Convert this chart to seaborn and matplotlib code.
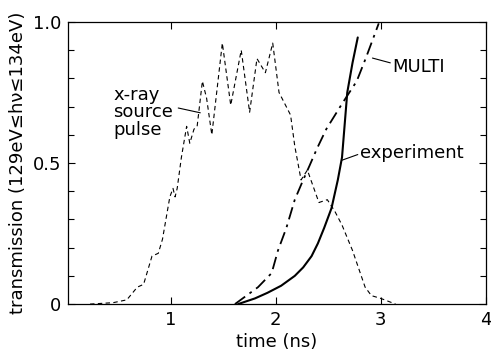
import matplotlib
matplotlib.use("Agg")
import matplotlib.pyplot as plt
import seaborn as sns
import numpy as np

# x-ray source pulse (dashed)
pulse_t = [0.23, 0.45, 0.58, 0.68, 0.74, 0.82, 0.88, 0.92, 0.99, 1.02, 1.04, 1.06,
           1.10, 1.15, 1.18, 1.22, 1.25, 1.30, 1.34, 1.39, 1.49, 1.57, 1.67, 1.75,
           1.82, 1.90, 1.97, 2.03, 2.14, 2.18, 2.24, 2.30, 2.41, 2.49, 2.56,
           2.63, 2.73, 2.85, 2.91, 3.00, 3.14]
pulse_y = [0.0, 0.005, 0.015, 0.06, 0.07, 0.17, 0.18, 0.23, 0.38, 0.41, 0.38, 0.41,
           0.52, 0.63, 0.57, 0.62, 0.63, 0.79, 0.73, 0.60, 0.925, 0.705, 0.90, 0.68,
           0.87, 0.82, 0.925, 0.75, 0.67, 0.56, 0.44, 0.475, 0.36, 0.37, 0.33,
           0.28, 0.19, 0.06, 0.03, 0.02, 0.0]

# experiment (solid)
exp_t = [1.64, 1.80, 1.92, 2.05, 2.18, 2.26, 2.34, 2.40, 2.46, 2.53, 2.59, 2.63, 2.68, 2.73, 2.78]
exp_y = [0.0, 0.02, 0.04, 0.065, 0.10, 0.13, 0.17, 0.215, 0.27, 0.34, 0.44, 0.52, 0.75, 0.855, 0.945]

# MULTI simulation (dash-dot)
multi_t = [1.61, 1.72, 1.83, 1.96, 2.02, 2.10, 2.18, 2.26, 2.32, 2.39, 2.48, 2.63, 2.77, 2.86, 2.98]
multi_y = [0.0, 0.03, 0.06, 0.11, 0.19, 0.27, 0.37, 0.44, 0.49, 0.55, 0.62, 0.71, 0.79, 0.875, 0.995]

x_ticks = [1, 2, 3, 4]
y_ticks = [0, 0.5, 1.0]
y_ticklabels = ["0", "0.5", "1.0"]

sns.set_theme(style="ticks")
plt.rcParams["font.family"] = ["DejaVu Sans"]
plt.rcParams["text.color"] = "black"
plt.rcParams["axes.labelcolor"] = "black"
plt.rcParams["xtick.color"] = "black"
plt.rcParams["ytick.color"] = "black"

fig = plt.figure(figsize=(4.91, 3.54), dpi=100)
ax = fig.add_axes([0.1385, 0.141, 0.851, 0.797])

sns.lineplot(x=pulse_t, y=pulse_y, ax=ax, color="black", linewidth=0.8,
             sort=False, estimator=None).lines[-1].set_dashes([4, 3])
sns.lineplot(x=exp_t, y=exp_y, ax=ax, color="black", linewidth=1.5, sort=False, estimator=None)
sns.lineplot(x=multi_t, y=multi_y, ax=ax, color="black", linewidth=1.3,
             sort=False, estimator=None).lines[-1].set_dashes([7, 3, 1.5, 3])

ax.set_xlim(0.02, 4.0)
ax.set_ylim(0, 1.0)
ax.set_xticks(x_ticks)
ax.set_xticklabels([str(v) for v in x_ticks])
ax.set_yticks(y_ticks)
ax.set_yticklabels(y_ticklabels)
ax.set_yticks(np.arange(0.1, 1.0, 0.1), minor=True)
ax.tick_params(which="both", direction="in", top=True, right=True, labelsize=13,
               color="black", labelcolor="black", width=0.8)
ax.tick_params(which="major", length=5, pad=5)
ax.tick_params(which="minor", length=4)
for s in ax.spines.values():
    s.set_linewidth(0.9)
    s.set_color("black")

ax.set_xlabel("time (ns)", fontsize=13, labelpad=3)
ax.set_ylabel("transmission (129eV≤hν≤134eV)", fontsize=13, labelpad=4)

ax.text(0.45, 0.68, "x-ray\nsource\npulse", fontsize=13, linespacing=0.95,
        ha="left", va="center")
ax.plot([1.07, 1.28], [0.695, 0.678], color="black", linewidth=0.8)
ax.text(3.11, 0.84, "MULTI", fontsize=13, ha="left", va="center")
ax.plot([2.92, 3.09], [0.872, 0.855], color="black", linewidth=0.8)
ax.text(2.80, 0.535, "experiment", fontsize=13, ha="left", va="center")
ax.plot([2.63, 2.78], [0.51, 0.53], color="black", linewidth=0.8)

fig.savefig("out.png", dpi=100)
